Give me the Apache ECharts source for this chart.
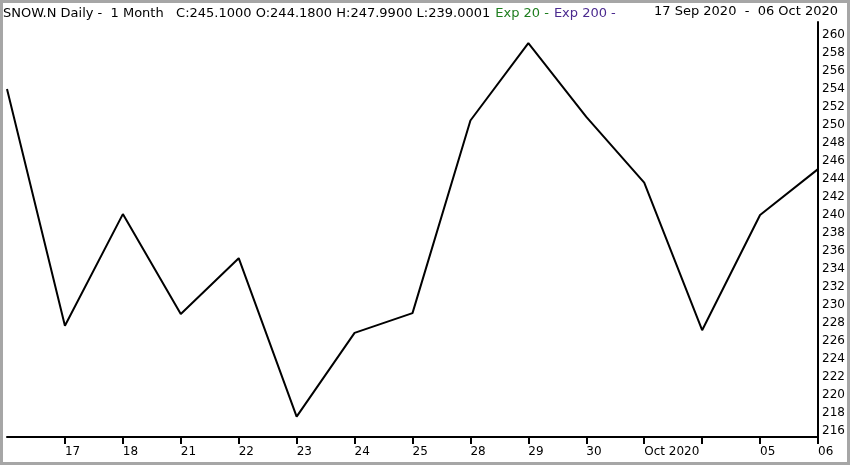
<!DOCTYPE html>
<html>
<head>
<meta charset="utf-8">
<script src="https://cdn.jsdelivr.net/npm/echarts@6/dist/echarts.min.js"></script>
<style>
html,body{margin:0;padding:0;background:#fff;}
#c{width:850px;height:465px;}
</style>
</head>
<body>
<div id="c"></div>
<script>
const categories = ['16','17','18','21','22','23','24','25','28','29','30','Oct 2020','02','05','06'];
const tickLabels = ['','17','18','21','22','23','24','25','28','29','30','Oct 2020','','05','06'];
const closeValues = [254.0, 227.7, 240.1, 229.0, 235.2, 217.6, 226.9, 229.1, 250.5, 259.1, 250.9, 243.6, 227.2, 240.0, 245.1];
const yTickValues = [216,218,220,222,224,226,228,230,232,234,236,238,240,242,244,246,248,250,252,254,256,258,260];
const headerText = 'SNOW.N Daily -  1 Month   C:245.1000 O:244.1800 H:247.9900 L:239.0001';
const rangeText = '17 Sep 2020  -  06 Oct 2020';

const FONT = 'DejaVu Sans';
const chart = echarts.init(document.getElementById('c'), null, {renderer:'canvas'});
chart.setOption({
  animation:false,
  backgroundColor:'#fff',
  title:[
    {left:3, top:5, padding:0, text:'{b|'+headerText+'} {g|Exp 20 -} {p|Exp 200 -}',
     textStyle:{fontWeight:'normal',rich:{
       b:{fontFamily:FONT,fontSize:13,fontWeight:'normal',color:'#000'},
       g:{fontFamily:FONT,fontSize:13,fontWeight:'normal',color:'#1e7d1e'},
       p:{fontFamily:FONT,fontSize:13,fontWeight:'normal',color:'#4b2a8f'}
     }}},
    {right:12, top:5, padding:0, text:rangeText,
     textStyle:{fontFamily:FONT,fontSize:13,fontWeight:'normal',color:'#000'}}
  ],
  graphic:[{type:'rect',shape:{x:1.5,y:1.5,width:847,height:462},style:{fill:null,stroke:'#a6a6a6',lineWidth:3},silent:true}],
  grid:{left:7,right:32,top:22,bottom:28,containLabel:false},
  xAxis:{
    type:'category',data:categories,boundaryGap:false,
    axisLine:{lineStyle:{color:'#000',width:2}},
    axisTick:{show:true,length:7,lineStyle:{color:'#000',width:2},interval:function(i){return i>0;}},
    axisLabel:{interval:0,align:'left',margin:9,fontFamily:FONT,fontSize:12,color:'#000',
      formatter:function(v,i){return tickLabels[i];}},
    splitLine:{show:false}
  },
  yAxis:{
    type:'value',position:'right',min:215.333,max:261.444,
    axisLine:{show:true,lineStyle:{color:'#000',width:2}},
    axisTick:{show:false},
    axisLabel:{customValues:yTickValues,margin:4,fontFamily:FONT,fontSize:12,color:'#000'},
    splitLine:{show:false}
  },
  series:[{type:'line',data:closeValues,symbol:'none',lineStyle:{color:'#000',width:2}}]
});
</script>
</body>
</html>
